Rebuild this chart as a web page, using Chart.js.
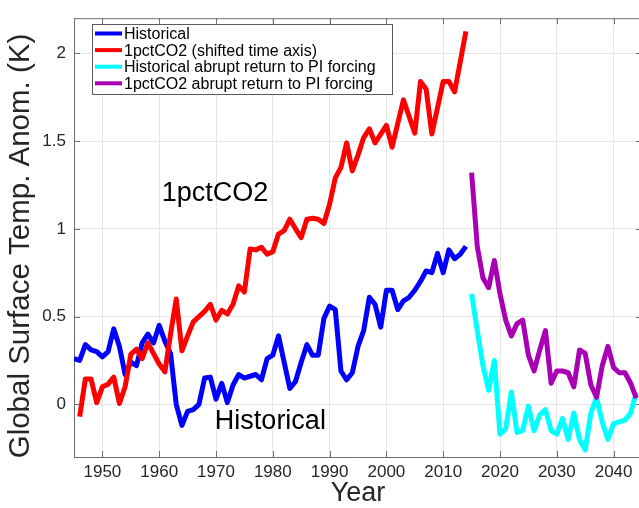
<!DOCTYPE html>
<html>
<head>
<meta charset="utf-8">
<script src="https://cdn.jsdelivr.net/npm/chart.js@4.4.1/dist/chart.umd.min.js"></script>
<style>
  html, body { margin: 0; padding: 0; background: #fff; overflow: hidden; width: 639px; height: 508px; }
  #wrap { position: absolute; left: 0; top: 0; width: 648px; height: 508px; }
</style>
</head>
<body>
<div id="wrap"><canvas id="chart" width="648" height="508"></canvas></div>
<script>
// Global mean surface temperature anomaly (K)
const histStart = 1945;
const historical = [
  0.26, 0.25, 0.34, 0.31, 0.30, 0.27, 0.30, 0.43, 0.33, 0.17,
  0.24, 0.22, 0.35, 0.40, 0.35, 0.45, 0.36, 0.29, 0.00, -0.12,
  -0.04, -0.03, 0.00, 0.15, 0.155, 0.03, 0.12, 0.01, 0.11, 0.17,
  0.15, 0.16, 0.17, 0.14, 0.26, 0.28, 0.39, 0.24, 0.09, 0.13,
  0.24, 0.34, 0.28, 0.28, 0.49, 0.56, 0.54, 0.19, 0.14, 0.18,
  0.33, 0.42, 0.61, 0.57, 0.44, 0.65, 0.65, 0.54, 0.59, 0.61,
  0.65, 0.70, 0.76, 0.75, 0.86, 0.75, 0.88, 0.83, 0.855, 0.90
];

const pctStart = 1946;
const pctCO2 = [
  -0.07, 0.145, 0.145, 0.01, 0.10, 0.115, 0.155, 0.005, 0.10,
  0.285, 0.315, 0.26, 0.35, 0.29, 0.23, 0.185, 0.40, 0.60, 0.305,
  0.39, 0.47, 0.50, 0.53, 0.57, 0.48, 0.535, 0.515, 0.57, 0.675,
  0.64, 0.885, 0.88, 0.895, 0.855, 0.87, 0.97, 0.99, 1.055, 1.00,
  0.95, 1.055, 1.06, 1.055, 1.03, 1.14, 1.29, 1.35, 1.49, 1.33,
  1.42, 1.52, 1.57, 1.49, 1.54, 1.59, 1.465, 1.60, 1.735, 1.64,
  1.545, 1.84, 1.795, 1.54, 1.69, 1.84, 1.84, 1.78, 1.95, 2.125
];

const returnStart = 2015;
const histReturn = [
  0.63, 0.42, 0.22, 0.08, 0.25, -0.17, -0.14, 0.07, -0.16, -0.15,
  -0.01, -0.15, -0.06, -0.03, -0.15, -0.17, -0.08, -0.20, -0.05, -0.20,
  -0.26, -0.05, 0.04, -0.10, -0.20, -0.11, -0.10, -0.09, -0.05, 0.07
];
const pctReturn = [
  1.32, 0.90, 0.72, 0.665, 0.82, 0.63, 0.48, 0.39, 0.46, 0.48,
  0.28, 0.19, 0.31, 0.42, 0.12, 0.19, 0.19, 0.18, 0.10, 0.31,
  0.29, 0.11, 0.04, 0.22, 0.33, 0.21, 0.18, 0.18, 0.12, 0.035
];

const xTicks = [1950, 1960, 1970, 1980, 1990, 2000, 2010, 2020, 2030, 2040];
const yTicks = [0, 0.5, 1, 1.5, 2];

const seriesNames = [
  'Historical',
  '1pctCO2 (shifted time axis)',
  'Historical abrupt return to PI forcing',
  '1pctCO2 abrupt return to PI forcing'
];
const seriesColors = ['#0000ff', '#ff0000', '#00ffff', '#aa00b4'];
const yTitle = 'Global Surface Temp. Anom. (K)';

function toPoints(start, values) {
  return values.map((v, i) => ({ x: start + i, y: v }));
}

const FONT = '"Liberation Sans", Arial, Helvetica, sans-serif';
const TXT = '#262626';
const AXIS = '#6e6e6e';

function lineSet(i, start, values, order) {
  return {
    label: seriesNames[i],
    data: toPoints(start, values),
    borderColor: seriesColors[i],
    backgroundColor: seriesColors[i],
    borderWidth: 5,
    pointRadius: 0,
    tension: 0,
    borderJoinStyle: 'round',
    borderCapStyle: 'butt',
    fill: false,
    order: order
  };
}

// Box outline, inward tick marks, y title, legend and in-plot labels
const decorations = {
  id: 'decorations',
  afterDatasetsDraw(chart) {
    const ctx = chart.ctx;
    const { left, right, top, bottom } = chart.chartArea;
    const xs = chart.scales.x, ys = chart.scales.y;
    ctx.save();
    ctx.strokeStyle = AXIS;
    ctx.lineWidth = 1;
    ctx.beginPath();
    ctx.moveTo(left, top + 0.5); ctx.lineTo(right, top + 0.5);
    ctx.moveTo(right - 0.5, top); ctx.lineTo(right - 0.5, bottom);
    const tl = 6;
    xs.ticks.forEach(t => {
      const px = Math.round(xs.getPixelForValue(t.value)) + 0.5;
      ctx.moveTo(px, bottom); ctx.lineTo(px, bottom - tl);
      ctx.moveTo(px, top); ctx.lineTo(px, top + tl);
    });
    ys.ticks.forEach(t => {
      const py = Math.round(ys.getPixelForValue(t.value)) + 0.5;
      ctx.moveTo(left, py); ctx.lineTo(left + tl, py);
      ctx.moveTo(right, py); ctx.lineTo(right - tl, py);
    });
    ctx.stroke();

    // y axis title
    ctx.save();
    ctx.translate(21, 246);
    ctx.rotate(-Math.PI / 2);
    ctx.font = '29.5px ' + FONT;
    ctx.fillStyle = TXT;
    ctx.textAlign = 'center';
    ctx.textBaseline = 'middle';
    ctx.fillText(yTitle, 0, 0);
    ctx.restore();

    // legend
    const lx = 92, ly = 24, lw = 300, lh = 70;
    ctx.fillStyle = '#ffffff';
    ctx.fillRect(lx, ly, lw, lh);
    ctx.strokeStyle = '#5a5a5a';
    ctx.strokeRect(lx + 0.5, ly + 0.5, lw, lh);
    ctx.font = '16px ' + FONT;
    ctx.textBaseline = 'middle';
    ctx.textAlign = 'left';
    chart.data.datasets.forEach((ds, i) => {
      const cy = ly + 9.5 + i * 16.6;
      ctx.strokeStyle = ds.borderColor;
      ctx.lineWidth = 4;
      ctx.beginPath();
      ctx.moveTo(lx + 3, cy); ctx.lineTo(lx + 30, cy);
      ctx.stroke();
      ctx.fillStyle = '#000';
      ctx.fillText(ds.label, lx + 32, cy + 1);
    });

    // series labels inside the plot
    ctx.font = '27px ' + FONT;
    ctx.fillStyle = '#000';
    ctx.textBaseline = 'alphabetic';
    ctx.fillText('1pctCO2', xs.getPixelForValue(1960.45), ys.getPixelForValue(1.156));
    ctx.fillText('Historical', xs.getPixelForValue(1969.8), ys.getPixelForValue(-0.14));
    ctx.restore();
  }
};

new Chart(document.getElementById('chart'), {
  type: 'line',
  data: {
    datasets: [
      lineSet(0, histStart, historical, 4),
      lineSet(1, pctStart, pctCO2, 3),
      lineSet(2, returnStart, histReturn, 2),
      lineSet(3, returnStart, pctReturn, 1)
    ]
  },
  options: {
    responsive: false,
    animation: false,
    devicePixelRatio: 1,
    layout: { padding: { top: 7, right: 6, left: 0, bottom: 0 } },
    plugins: { legend: { display: false }, tooltip: { enabled: false } },
    scales: {
      x: {
        type: 'linear',
        min: 1945,
        max: 2045,
        afterBuildTicks: s => { s.ticks = xTicks.map(v => ({ value: v })); },
        afterFit: s => { s.height = 51; },
        ticks: { font: { family: FONT, size: 17 }, color: TXT, padding: 5, maxRotation: 0, callback: v => String(v) },
        grid: { color: '#e6e6e6', drawTicks: false },
        border: { display: true, color: AXIS },
        title: { display: true, text: 'Year', font: { family: FONT, size: 27 }, color: TXT, padding: { top: 0, bottom: -2 } }
      },
      y: {
        type: 'linear',
        min: -0.3,
        max: 2.2,
        afterBuildTicks: s => { s.ticks = yTicks.map(v => ({ value: v })); },
        afterFit: s => { s.width = 74; },
        ticks: { font: { family: FONT, size: 17 }, color: TXT, padding: 8, callback: v => String(v) },
        grid: { color: '#e6e6e6', drawTicks: false },
        border: { display: true, color: AXIS },
        title: { display: false }
      }
    }
  },
  plugins: [decorations]
});
</script>
</body>
</html>
